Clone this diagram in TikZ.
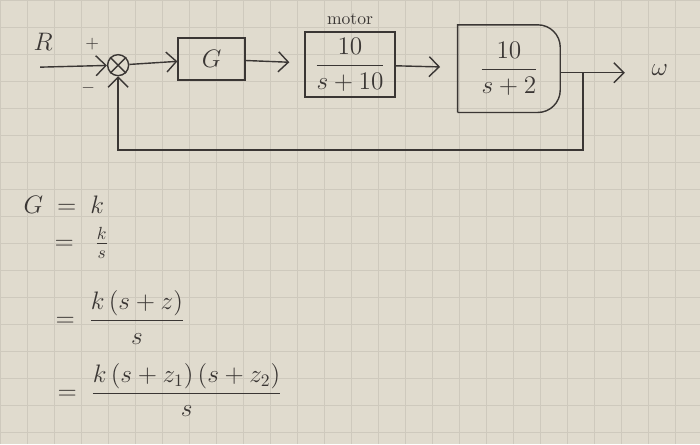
\documentclass[tikz,border=0pt]{standalone}
\usepackage{amsmath}
\usepackage{tikz}
\usetikzlibrary{arrows.meta, positioning, calc}
\definecolor{paper}{RGB}{224,219,206}
\definecolor{gridline}{RGB}{206,201,189}
\definecolor{ink}{RGB}{58,54,52}

\begin{document}
\begin{tikzpicture}[
    node distance=0.1cm,
    block/.style={rectangle, draw=ink, thick, minimum width=1.34cm, minimum height=0.84cm, align=center, font=\Large, text=ink},
    sumnode/.style={circle, draw=ink, thick, minimum size=0.42cm, inner sep=0pt},
    lbl/.style={text=ink, font=\Large, inner sep=1pt},
    eqn/.style={text=ink, font=\Large, anchor=west, inner sep=0pt},
    arrow/.style={-{Straight Barb[length=2mm]}, thick, draw=ink}
]
    % paper
    \fill[paper] (0,0) rectangle (14,-8.88);
    \draw[gridline, very thin, step=0.54cm] (0,0) grid (14,-8.88);
    \useasboundingbox (0,0) rectangle (14,-8.88);

    % loop
    \coordinate (in) at (0.8,-1.34);
    \node[lbl] (r) at (0.86,-0.84) {$R$};
    \node[sumnode] (sum) at (2.36,-1.30) {};
    \draw[ink, thick] (sum.north west) -- (sum.south east) (sum.north east) -- (sum.south west);
    \node[lbl, font=\normalsize] (plus) at (1.84,-0.88) {$+$};
    \node[lbl, font=\normalsize] (minus) at (1.76,-1.76) {$-$};
    \node[block] (ctrl) at (4.23,-1.18) {$G$};
    \node[block, minimum width=1.8cm, minimum height=1.3cm] (motor) at (7.0,-1.29) {$\dfrac{10}{s+10}$};
    \node[lbl, font=\normalsize, above=of motor] (motorlbl) {motor};
    \node[minimum width=2.04cm, minimum height=1.74cm, font=\Large, text=ink] (plant) at (10.18,-1.37) {$\dfrac{\;10\;}{s+2}$};
    \draw[ink, thick] (plant.south west) -- (plant.north west) [rounded corners=0.45cm] -- (plant.north east) -- (plant.south east) [sharp corners] -- (plant.south west);
    \coordinate (out) at (12.5,-1.45);
    \node[lbl] (w) at (13.2,-1.40) {$\omega$};
    \coordinate (tap) at (11.66,-1.45);
    \coordinate (fb) at (11.66,-3.0);

    \draw[arrow] (in) -- (sum);
    \draw[arrow] (sum) -- (ctrl);
    \draw[arrow, shorten >=0.3cm] (ctrl) -- (motor);
    \draw[arrow, shorten >=0.35cm] (motor) -- (plant);
    \draw[arrow] (plant.east |- out) -- (out);
    \draw[arrow] (tap) -- (fb) -- (fb -| sum) -- (sum);

    % controller forms
    \node[eqn] (eqg) at (0.46,-4.1) {$G \;=\; k$};
    \node[eqn] (eqa) at (1.08,-4.86) {$=\;\; \tfrac{k}{s}$};
    \node[eqn] (eqb) at (1.1,-6.35) {$=\; \dfrac{k\,(s+z)}{s}$};
    \node[eqn] (eqc) at (1.14,-7.8) {$=\; \dfrac{k\,(s+z_1)\,(s+z_2)}{s}$};
\end{tikzpicture}
\end{document}
